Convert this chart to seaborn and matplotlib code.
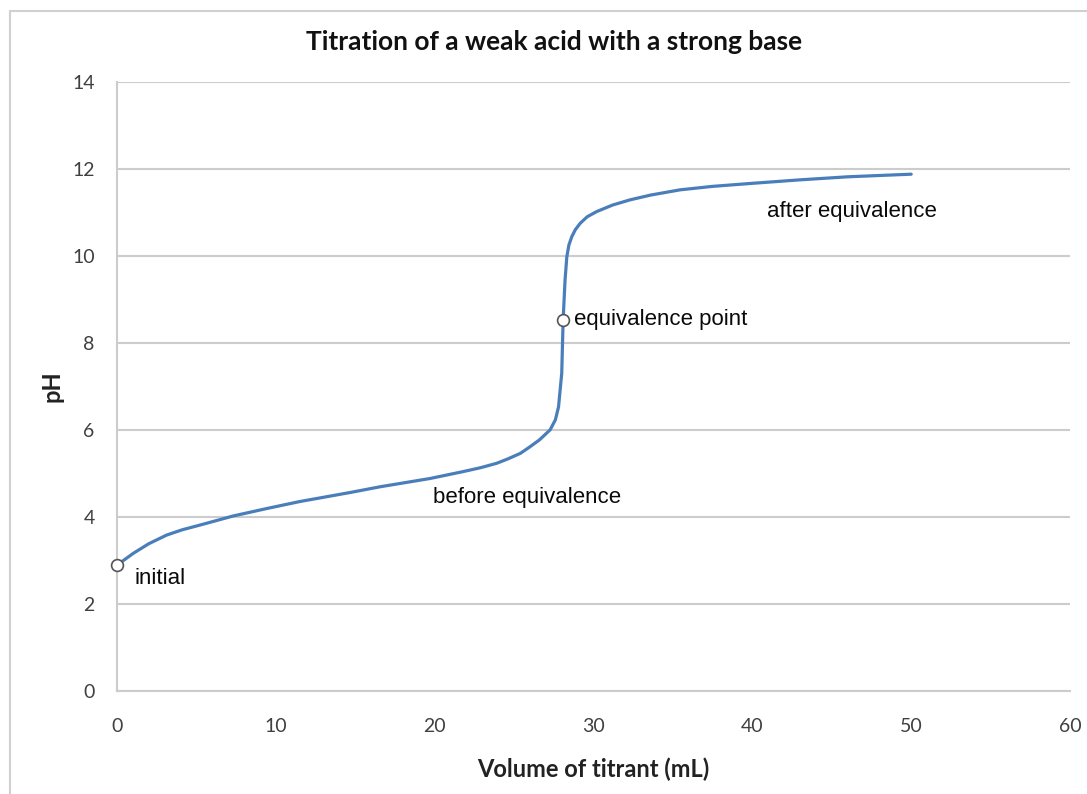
import pandas as pd
import matplotlib.pyplot as plt
import seaborn as sns
from matplotlib.patches import Rectangle

# titration curve
volume = [0, 0.5, 1.03, 2.0, 3.13, 4.1, 5.23, 7.33, 9.43, 11.5, 14.7, 16.56,
          19.7, 21.8, 22.9, 23.9, 24.6, 25.4, 26.0, 26.6, 27.27, 27.6, 27.8,
          27.9, 28.0, 28.05, 28.09, 28.15, 28.21, 28.32, 28.45, 28.63, 28.85,
          29.16, 29.6, 30.2, 31.2, 32.3, 33.6, 35.45, 37.5, 40, 43, 46, 50]
ph = [2.89, 3.02, 3.16, 3.38, 3.58, 3.70, 3.81, 4.02, 4.19, 4.35, 4.56, 4.69,
      4.88, 5.04, 5.13, 5.23, 5.33, 5.46, 5.61, 5.77, 6.0, 6.23, 6.53,
      6.92, 7.3, 8.0, 8.53, 9.0, 9.45, 9.98, 10.25, 10.44, 10.6,
      10.75, 10.9, 11.02, 11.17, 11.29, 11.4, 11.52, 11.6, 11.67, 11.75,
      11.82, 11.88]

marker_volume = [0, 28.09]
marker_ph = [2.89, 8.53]

labels = ["initial", "before equivalence", "equivalence point", "after equivalence"]
label_volume = [1.1, 19.9, 28.8, 40.9]
label_ph = [2.59, 4.45, 8.53, 11.03]

x_ticks = [0, 10, 20, 30, 40, 50, 60]
y_ticks = [0, 2, 4, 6, 8, 10, 12, 14]

sns.set_style("white")
plt.rcParams['font.family'] = ['Lato', 'DejaVu Sans']

df = pd.DataFrame({'Volume': volume, 'pH': ph})

fig = plt.figure(figsize=(10.87, 7.94), dpi=100)
ax = fig.add_axes([0.1076, 0.1301, 0.8768, 0.7666])

# outer chart border
fig.patches.append(Rectangle((10 / 1087, -0.1), 1.1, 1.1 - 11 / 794,
                             transform=fig.transFigure, fill=False,
                             edgecolor='#d0d0d0', linewidth=1.5))

sns.lineplot(data=df, x='Volume', y='pH', ax=ax, color='#4a7ebb',
             linewidth=2.3, sort=False)
ax.plot(marker_volume, marker_ph, linestyle='none', marker='o', markersize=8.5,
        markerfacecolor='white', markeredgecolor='#555555', markeredgewidth=1.2,
        zorder=5, clip_on=False)

for txt, vx, vy in zip(labels, label_volume, label_ph):
    ax.text(vx, vy, txt, fontsize=16, family=['Liberation Sans', 'DejaVu Sans'],
            color='#0a0a0a', va='center', ha='left')

ax.set_xlim(0, 60)
ax.set_ylim(0, 14)
ax.set_xticks(x_ticks)
ax.set_yticks(y_ticks)
ax.tick_params(axis='both', length=0, labelsize=14, colors='#404040')
ax.tick_params(axis='x', pad=20)
ax.tick_params(axis='y', pad=16)
ax.grid(axis='y', color='#cccccc', linewidth=1.5)
ax.grid(axis='x', visible=False)
for side in ['top', 'right']:
    ax.spines[side].set_visible(False)
for side in ['left', 'bottom']:
    ax.spines[side].set_color('#cccccc')
    ax.spines[side].set_linewidth(1.5)

ax.set_xlabel('Volume of titrant (mL)', fontsize=17, fontweight='bold',
              color='#222222', labelpad=16)
ax.set_ylabel('pH', fontsize=17, fontweight='bold', color='#222222', labelpad=6)

fig.text(554 / 1087, 1 - 42 / 794, 'Titration of a weak acid with a strong base',
         fontsize=19, fontweight='bold', ha='center', va='center', color='#111111')

fig.savefig('out.png', dpi=100)
